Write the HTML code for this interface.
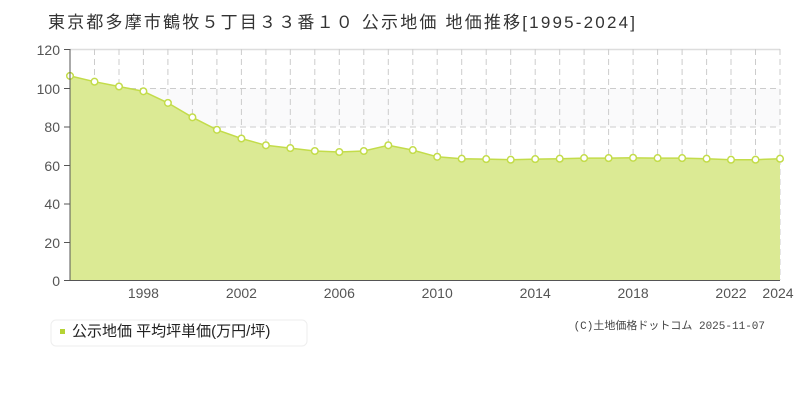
<!DOCTYPE html>
<html><head><meta charset="utf-8"><style>
body{margin:0;width:800px;height:400px;background:#fff;overflow:hidden;font-family:"Liberation Sans","Noto Sans CJK JP",sans-serif;}
</style></head><body>
<svg width="800" height="400" xmlns="http://www.w3.org/2000/svg" style="position:absolute;left:0;top:0">
<text x="48" y="28" font-size="17" fill="#333" textLength="587" lengthAdjust="spacing" font-family="Liberation Sans,Noto Sans CJK JP,sans-serif">東京都多摩市鶴牧５丁目３３番１０ 公示地価 地価推移[1995-2024]</text>
<rect x="70" y="88.5" width="710" height="38.5" fill="#fafafb"/>
<line x1="70" y1="49.5" x2="780" y2="49.5" stroke="#ddd" stroke-width="1.5"/>
<g stroke="#ccc" stroke-dasharray="6,4" stroke-width="1">
<line x1="70" y1="88.5" x2="780" y2="88.5"/><line x1="70" y1="127" x2="780" y2="127"/><line x1="70" y1="165.5" x2="780" y2="165.5"/><line x1="70" y1="204" x2="780" y2="204"/><line x1="70" y1="242.5" x2="780" y2="242.5"/>
<line x1="94.5" y1="49" x2="94.5" y2="280"/><line x1="119" y1="49" x2="119" y2="280"/><line x1="143.4" y1="49" x2="143.4" y2="280"/><line x1="167.9" y1="49" x2="167.9" y2="280"/><line x1="192.4" y1="49" x2="192.4" y2="280"/><line x1="216.9" y1="49" x2="216.9" y2="280"/><line x1="241.4" y1="49" x2="241.4" y2="280"/><line x1="265.9" y1="49" x2="265.9" y2="280"/><line x1="290.3" y1="49" x2="290.3" y2="280"/><line x1="314.8" y1="49" x2="314.8" y2="280"/><line x1="339.3" y1="49" x2="339.3" y2="280"/><line x1="363.8" y1="49" x2="363.8" y2="280"/><line x1="388.3" y1="49" x2="388.3" y2="280"/><line x1="412.8" y1="49" x2="412.8" y2="280"/><line x1="437.2" y1="49" x2="437.2" y2="280"/><line x1="461.7" y1="49" x2="461.7" y2="280"/><line x1="486.2" y1="49" x2="486.2" y2="280"/><line x1="510.7" y1="49" x2="510.7" y2="280"/><line x1="535.2" y1="49" x2="535.2" y2="280"/><line x1="559.7" y1="49" x2="559.7" y2="280"/><line x1="584.1" y1="49" x2="584.1" y2="280"/><line x1="608.6" y1="49" x2="608.6" y2="280"/><line x1="633.1" y1="49" x2="633.1" y2="280"/><line x1="657.6" y1="49" x2="657.6" y2="280"/><line x1="682.1" y1="49" x2="682.1" y2="280"/><line x1="706.6" y1="49" x2="706.6" y2="280"/><line x1="731" y1="49" x2="731" y2="280"/><line x1="755.5" y1="49" x2="755.5" y2="280"/><line x1="780" y1="49" x2="780" y2="280"/>
</g>
<polygon fill="#dbea94" points="70,280 70,75.9 94.5,81.7 119,86.5 143.4,91.3 167.9,102.9 192.4,117.3 216.9,129.8 241.4,138.5 265.9,145.3 290.3,148.1 314.8,151 339.3,152 363.8,151 388.3,145.3 412.8,150.1 437.2,156.8 461.7,158.7 486.2,159.1 510.7,159.7 535.2,159.1 559.7,158.7 584.1,158.1 608.6,158.1 633.1,157.8 657.6,158.1 682.1,158.1 706.6,158.7 731,159.7 755.5,159.7 780,158.7 780,280"/>
<polyline fill="none" stroke="#c3dc4a" stroke-width="1.5" points="70,75.9 94.5,81.7 119,86.5 143.4,91.3 167.9,102.9 192.4,117.3 216.9,129.8 241.4,138.5 265.9,145.3 290.3,148.1 314.8,151 339.3,152 363.8,151 388.3,145.3 412.8,150.1 437.2,156.8 461.7,158.7 486.2,159.1 510.7,159.7 535.2,159.1 559.7,158.7 584.1,158.1 608.6,158.1 633.1,157.8 657.6,158.1 682.1,158.1 706.6,158.7 731,159.7 755.5,159.7 780,158.7"/>
<g fill="#fff" stroke="#c3dc4a" stroke-width="1.5">
<circle cx="70" cy="75.9" r="3.3"/><circle cx="94.5" cy="81.7" r="3.3"/><circle cx="119" cy="86.5" r="3.3"/><circle cx="143.4" cy="91.3" r="3.3"/><circle cx="167.9" cy="102.9" r="3.3"/><circle cx="192.4" cy="117.3" r="3.3"/><circle cx="216.9" cy="129.8" r="3.3"/><circle cx="241.4" cy="138.5" r="3.3"/><circle cx="265.9" cy="145.3" r="3.3"/><circle cx="290.3" cy="148.1" r="3.3"/><circle cx="314.8" cy="151" r="3.3"/><circle cx="339.3" cy="152" r="3.3"/><circle cx="363.8" cy="151" r="3.3"/><circle cx="388.3" cy="145.3" r="3.3"/><circle cx="412.8" cy="150.1" r="3.3"/><circle cx="437.2" cy="156.8" r="3.3"/><circle cx="461.7" cy="158.7" r="3.3"/><circle cx="486.2" cy="159.1" r="3.3"/><circle cx="510.7" cy="159.7" r="3.3"/><circle cx="535.2" cy="159.1" r="3.3"/><circle cx="559.7" cy="158.7" r="3.3"/><circle cx="584.1" cy="158.1" r="3.3"/><circle cx="608.6" cy="158.1" r="3.3"/><circle cx="633.1" cy="157.8" r="3.3"/><circle cx="657.6" cy="158.1" r="3.3"/><circle cx="682.1" cy="158.1" r="3.3"/><circle cx="706.6" cy="158.7" r="3.3"/><circle cx="731" cy="159.7" r="3.3"/><circle cx="755.5" cy="159.7" r="3.3"/><circle cx="780" cy="158.7" r="3.3"/>
</g>
<line x1="70" y1="49" x2="70" y2="280" stroke="#555" stroke-width="1"/>
<line x1="64" y1="280.5" x2="780" y2="280.5" stroke="#555" stroke-width="1"/>
<g stroke="#555"><line x1="64" y1="49.5" x2="70" y2="49.5"/><line x1="64" y1="88.5" x2="70" y2="88.5"/><line x1="64" y1="127" x2="70" y2="127"/><line x1="64" y1="165.5" x2="70" y2="165.5"/><line x1="64" y1="204" x2="70" y2="204"/><line x1="64" y1="242.5" x2="70" y2="242.5"/></g>
<g font-size="14" fill="#555" text-anchor="end">
<text x="60" y="55">120</text><text x="60" y="94">100</text><text x="60" y="132">80</text><text x="60" y="171">60</text><text x="60" y="209">40</text><text x="60" y="248">20</text><text x="60" y="286">0</text>
</g>
<g font-size="14" fill="#555" text-anchor="middle">
<text x="143.4" y="298">1998</text><text x="241.4" y="298">2002</text><text x="339.3" y="298">2006</text><text x="437.2" y="298">2010</text><text x="535.2" y="298">2014</text><text x="633.1" y="298">2018</text><text x="731" y="298">2022</text><text x="778" y="298">2024</text>
</g>
<rect x="51" y="320" width="256" height="26" rx="5" fill="#fff" stroke="#eee"/>
<rect x="60" y="329" width="5" height="5" fill="#b5d334"/>
<text x="72" y="336" font-size="15" fill="#222">公示地価 平均坪単価(万円/坪)</text>
<text x="765" y="329" font-size="11" fill="#444" text-anchor="end" font-family="Liberation Mono,Noto Sans CJK JP,monospace">(C)土地価格ドットコム 2025-11-07</text>
</svg>
</body></html>
